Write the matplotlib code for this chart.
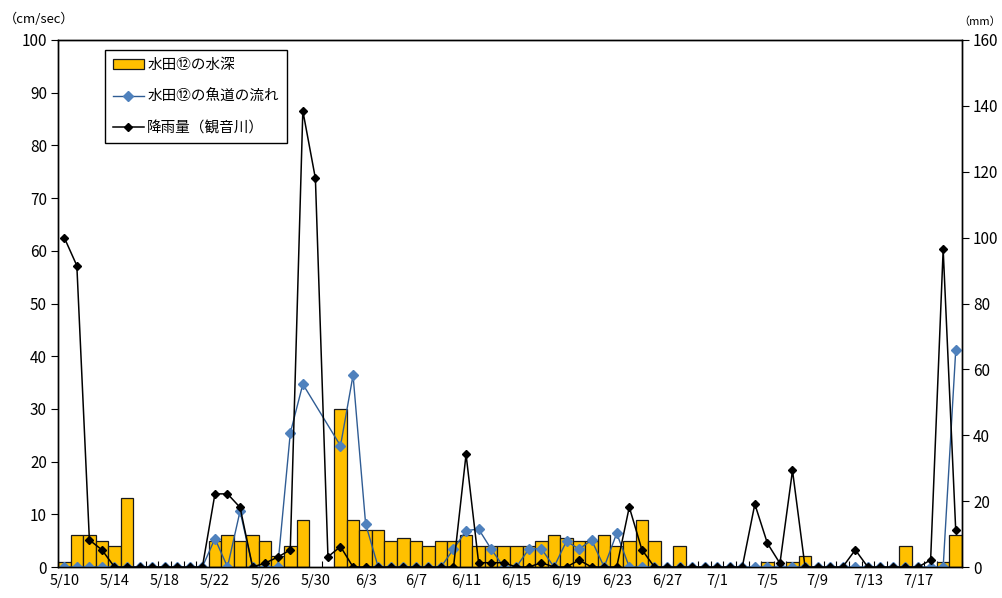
import numpy as np
import pandas as pd
import matplotlib
matplotlib.use("Agg")
import matplotlib.pyplot as plt
from matplotlib.patches import Patch
from matplotlib.lines import Line2D

plt.rcParams['font.family'] = ['Noto Sans CJK JP', 'DejaVu Sans']

# ---- data ----
dates = pd.date_range("2010-05-10", periods=72)
date_labels = [f"{d.month}/{d.day}" for d in dates]

# 水田⑫の水深 (left axis)
depth = [1, 6, 6, 5, 4, 13, 0, 0, 0, 0, 0, 0,
         5, 6, 5, 6, 5, 2, 4, 9, 0, 0,
         30, 9, 7, 7, 5, 5.5, 5, 4, 5, 5, 6, 4, 4, 4, 4, 4, 5, 6, 5.5, 5, 5, 6, 4, 5, 9, 5,
         0, 4, 0, 0, 0, 0, 0, 0, 1, 0, 1, 2,
         0, 0, 0, 0, 0, 0, 0, 4, 0, 0, 1, 6]

nan = np.nan
# 水田⑫の魚道の流れ (left axis, cm/sec)
flow = [0, 0, 0, 0, 0, 0, 0, 0, 0, 0, 0, 0,
        5.4, 0, 10.6, 0, 0, 0, 25.4, 34.7, nan, nan,
        23.0, 36.4, 8.2, 0, 0, 0, 0, 0, 0, 3.4, 6.9, 7.2, 3.4, 0, 0, 3.4, 3.5, 0, 4.9, 3.4, 5.1, 0, 6.4, 0, 0,
        0, 0, 0, 0, 0, 0, 0, 0,
        0, 0, 0, 0, 0, 0, 0, 0, 0, 0, 0, 0, 0, 0, 0, 0, 41.1]

# 降雨量（観音川） (right axis, mm)
rain = [100, 91.5, 8.2, 5.2, 0, 0, 0, 0, 0, 0, 0, 0,
        22.2, 22.2, 18.1, 0, 1.2, 3.0, 5.2, 138.5, 118, 3.1,
        6.2, 0, 0, 0, 0, 0, 0, 0, 0, 0, 34.2, 1.3, 1.3, 1.3, 0, 0, 1.3, 0, 0, 2.1, 0, 0, 0, 18.2, 5.3,
        0, 0, 0, 0, 0, 0, 0, 0,
        19.1, 7.2, 1.1, 29.3, 0, 0, 0, 0, 5.2, 0, 0, 0, 0, 0, 2.1, 96.4, 11.2]

label_depth = "水田⑫の水深"
label_flow = "水田⑫の魚道の流れ"
label_rain = "降雨量（観音川）"

# ---- plot ----
fig = plt.figure(figsize=(10.03, 5.98), dpi=100)
ax = fig.add_axes([58 / 1003, 1 - 567 / 598, 904 / 1003, 527 / 598])
ax2 = ax.twinx()

x = np.arange(len(depth))
d = np.array(depth, dtype=float)
mask = d > 0
ax.bar(x[mask], d[mask], width=1.0, color='#FFC000', edgecolor='#1a1a1a',
       linewidth=0.9, zorder=2)

f = np.array(flow, dtype=float)
fm = ~np.isnan(f)
ax.plot(x[fm], f[fm], color='#2F5C94', lw=1.0, marker='D', ms=5,
        mfc='#4F81BD', mec='#4F81BD', zorder=3)

ax2.plot(x, rain, color='black', lw=1.1, marker='D', ms=4.3,
         mfc='black', mec='black', zorder=3)

ax.set_xlim(-0.5, len(depth) - 0.5)
ax.set_ylim(0, 100)
ax2.set_ylim(0, 160)
ax.set_yticks(np.arange(0, 101, 10))
ax2.set_yticks(np.arange(0, 161, 20))

ax.set_xticks(x[::4])
ax.set_xticklabels([date_labels[i] for i in x[::4]])
ax.set_xticks(np.arange(-0.5, len(depth)), minor=True)
ax.tick_params(axis='x', which='major', length=0, pad=5, labelsize=10.5)
ax.tick_params(axis='x', which='minor', direction='in', length=4, width=0.8)
ax.tick_params(axis='y', direction='out', length=5, width=0.8, labelsize=11, pad=3)
ax2.tick_params(axis='y', direction='out', length=5, width=0.8, labelsize=11, pad=3)

for a in (ax, ax2):
    for s in a.spines.values():
        s.set_linewidth(1.0)
        s.set_color('black')

fig.text(39 / 1003, 1 - 19 / 598, "（cm/sec）", ha='center', va='center', fontsize=9.5)
fig.text(1001 / 1003, 1 - 22 / 598, "（mm）", ha='right', va='center', fontsize=8)

handles = [Patch(facecolor='#FFC000', edgecolor='#1a1a1a', linewidth=0.9),
           Line2D([], [], color='#2F5C94', lw=1.0, marker='D', ms=5,
                  mfc='#4F81BD', mec='#4F81BD'),
           Line2D([], [], color='black', lw=1.1, marker='D', ms=4.3)]
leg = ax2.legend(handles, [label_depth, label_flow, label_rain],
                 loc='upper left', bbox_to_anchor=(0.052, 0.981), borderaxespad=0,
                 fontsize=10.5, frameon=True, fancybox=False, shadow=False,
                 edgecolor='black', framealpha=1, handlelength=2.1,
                 labelspacing=1.2, borderpad=0.55, handletextpad=0.25)
leg.get_frame().set_linewidth(1.0)

fig.savefig("out.png", dpi=100)
